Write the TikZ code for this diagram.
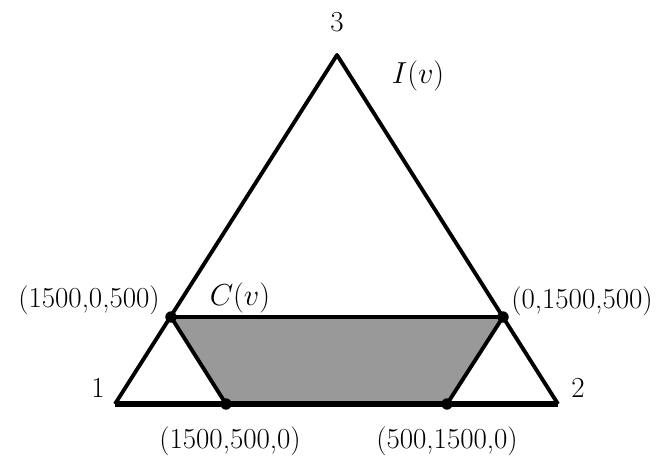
\documentclass[tikz,border=0pt]{standalone}
\usetikzlibrary{positioning}
\begin{document}
\begin{tikzpicture}[
  x=0.02cm, y=-0.02cm,
  line join=round,
  edge/.style={line width=2.2pt},
  base/.style={line width=3pt},
  region/.style={fill=black!40},
  dot/.style={circle, fill=black, inner sep=0pt, minimum size=6.5pt},
  lbl/.style={font=\fontsize{16.5}{19}\selectfont, inner sep=1pt},
]
\useasboundingbox (0,0) rectangle (666,456);

% corners of the simplex
\coordinate (v1) at (115,404);
\coordinate (v2) at (558,404);
\coordinate (v3) at (337,55);

% corners of C(v)
\coordinate (c13) at (171,317);
\coordinate (c23) at (503,317);
\coordinate (c12) at (226,404);
\coordinate (c21) at (447,404);

% shaded region C(v)
\fill[region] (c13) -- (c23) -- (c21) -- (c12) -- cycle;

% the simplex I(v)
\draw[edge] (v1) -- (v3) -- (v2);
\draw[base] (v1) -- (v2);

% sides of C(v)
\draw[edge] (c13) -- (c23);
\draw[edge] (c13) -- (c12);
\draw[edge] (c23) -- (c21);

\node[dot] (p13) at (c13) {};
\node[dot] (p23) at (c23) {};
\node[dot] (p12) at (c12) {};
\node[dot] (p21) at (c21) {};

% labels
\node[lbl] (n3) at (337,22) {3};
\node[lbl] (n1) at (98,388) {1};
\node[lbl] (n2) at (578,388) {2};
\node[lbl] (iv) at (418,76) {$I(v)$};
\node[lbl] (cv) at (240,298) {$C(v)$};
\node[lbl] (t13) at (89,300) {(1500,0,500)};
\node[lbl] (t23) at (582,301) {(0,1500,500)};
\node[lbl] (t12) at (230,441) {(1500,500,0)};
\node[lbl] (t21) at (447,441) {(500,1500,0)};
\end{tikzpicture}
\end{document}
